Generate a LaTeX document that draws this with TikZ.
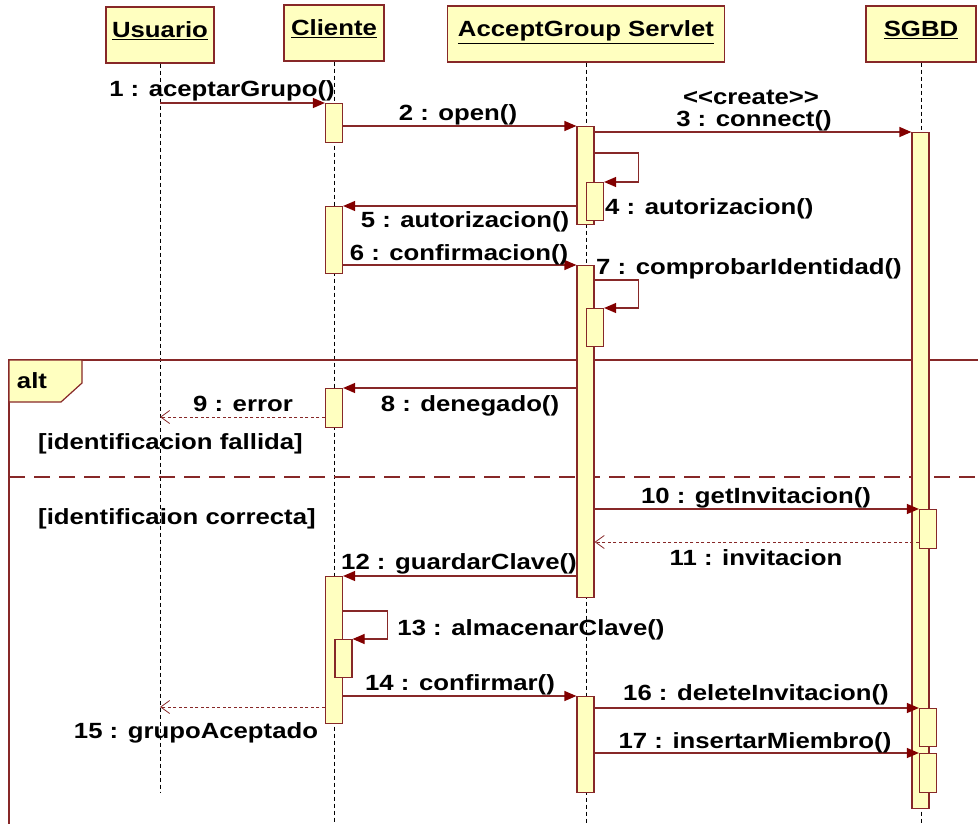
\documentclass[tikz,border=0pt]{standalone}
\usepackage{fontspec}
\setmainfont{Liberation Sans}[FakeStretch=1.17]
\usetikzlibrary{arrows.meta}

\definecolor{umlfill}{RGB}{255,255,192}
\definecolor{umlline}{RGB}{135,40,40}
\definecolor{umltip}{RGB}{130,0,0}

\tikzset{
  every node/.style={font=\fontsize{22}{26}\selectfont\bfseries},
  head/.style={draw=umlline, fill=umlfill, line width=1.2pt, minimum height=56pt,
    text height=16pt, text depth=10pt},
  life/.style={black, line width=1pt, dash pattern=on 4pt off 3pt},
  act/.style={draw=umlline, fill=umlfill, line width=1.2pt, minimum width=17pt,
    anchor=north, inner sep=0pt},
  call/.style={umlline, line width=1.2pt, -{Triangle[length=12pt,width=10pt,fill=umltip,color=umltip]}},
  reply/.style={umlline, line width=1pt, dash pattern=on 3pt off 2.5pt,
    -{Straight Barb[length=9pt,width=13pt,line width=0.8pt]}},
  msg/.style={text height=16pt, text depth=5pt, inner sep=0pt}
}

\begin{document}
\begin{tikzpicture}[x=1pt,y=-1pt]
\useasboundingbox (0,0) rectangle (978,824);

% lifeline heads
\node[head, minimum width=108pt] (usr) at (160,35) {\underline{Usuario}};
\node[head, minimum width=100pt] (cli) at (334,33) {\underline{Cliente}};
\node[head, minimum width=277pt] (srv) at (586,34) {\underline{AcceptGroup Servlet}};
\node[head, minimum width=110pt] (dbm) at (921,34) {\underline{SGBD}};

\draw[life] (usr.south) -- (usr.south |- 0,792);
\draw[life] (cli.south) -- (cli.south |- 0,826);
\draw[life] (srv.south) -- (srv.south |- 0,826);
\draw[life] (dbm.south) -- (dbm.south |- 0,826);

% alt frame
\draw[umlline, line width=1.2pt] (9,840) -- (9,360) -- (990,360);
\draw[umlline, line width=1.2pt, fill=umlfill] (9,360) -- (82,360) -- (82,383) -- (61,402) -- (9,402) -- cycle;
\node[msg] (alt) at (32,383) {alt};
\draw[umlline, line width=1.2pt, dash pattern=on 16pt off 9pt] (9,477) -- (990,477);
\node[msg, anchor=west] (g1) at (38,444) {[identificacion fallida]};
\node[msg, anchor=west] (g2) at (38,519) {[identificaion correcta]};

% activations
\node[act, minimum height=39pt] (c1) at (334,103) {};
\node[act, minimum height=67pt] (c2) at (334,206) {};
\node[act, minimum height=39pt] (c3) at (334,388) {};
\node[act, minimum height=147pt] (c4) at (334,576) {};
\node[act, minimum height=38pt] (c5) at (343.5,639) {};
\node[act, minimum height=98pt] (s1) at (585.5,126) {};
\node[act, minimum height=38pt] (s2) at (595,182) {};
\node[act, minimum height=332pt] (s3) at (585.5,265) {};
\node[act, minimum height=38pt] (s4) at (595,308) {};
\node[act, minimum height=96pt] (s5) at (585.5,696) {};
\node[act, minimum height=676pt] (d1) at (920.5,132) {};
\node[act, minimum height=39pt] (d2) at (928,509) {};
\node[act, minimum height=38pt] (d3) at (928,708) {};
\node[act, minimum height=39pt] (d4) at (928,753) {};

\coordinate (y4) at (0,153);
\coordinate (y7) at (0,280);
\coordinate (y9) at (0,417);
\coordinate (y11) at (0,542);
\coordinate (y13) at (0,611);
\coordinate (y15) at (0,707);

% messages
\draw[call] (usr.south |- c1.north) -- (c1.north west);
\draw[call] (c1.east |- s1.north) -- (s1.north west);
\draw[call] (s1.east |- d1.north) -- (d1.north west);
\draw[call] (s1.east |- y4) -- ++(44,0) |- (s2.north east);
\draw[call] (s1.west |- c2.north) -- (c2.north east);
\draw[call] (c2.east |- s3.north) -- (s3.north west);
\draw[call] (s3.east |- y7) -- ++(44,0) |- (s4.north east);
\draw[call] (s3.west |- c3.north) -- (c3.north east);
\draw[reply] (c3.west |- y9) -- (usr.south |- y9);
\draw[call] (s3.east |- d2.north) -- (d2.north west);
\draw[reply] (d2.west |- y11) -- (s3.east |- y11);
\draw[call] (s3.west |- c4.north) -- (c4.north east);
\draw[call] (c4.east |- y13) -- ++(44,0) |- (c5.north east);
\draw[call] (c4.east |- s5.north) -- (s5.north west);
\draw[reply] (c4.west |- y15) -- (usr.south |- y15);
\draw[call] (s5.east |- d3.north) -- (d3.north west);
\draw[call] (s5.east |- d4.north) -- (d4.north west);

% labels
\node[msg] (l1) at (222,91) {1 : aceptarGrupo()};
\node[msg] (l2) at (458,115) {2 : open()};
\node[msg] (lc) at (751,99) {<\kern0pt<create>\kern0pt>};
\node[msg] (l3) at (754,121) {3 : connect()};
\node[msg, anchor=west] (l4) at (605,209) {4 : autorizacion()};
\node[msg] (l5) at (465,222) {5 : autorizacion()};
\node[msg] (l6) at (459,255) {6 : confirmacion()};
\node[msg] (l7) at (749,269) {7 : comprobarIdentidad()};
\node[msg] (l8) at (470,406) {8 : denegado()};
\node[msg] (l9) at (243,406) {9 : error};
\node[msg] (l10) at (756,498) {10 : getInvitacion()};
\node[msg] (l11) at (756,560) {11 : invitacion};
\node[msg] (l12) at (459,564) {12 : guardarClave()};
\node[msg] (l13) at (531,630) {13 : almacenarClave()};
\node[msg] (l14) at (460,685) {14 : confirmar()};
\node[msg] (l15) at (196,733) {15 : grupoAceptado};
\node[msg] (l16) at (756,695) {16 : deleteInvitacion()};
\node[msg] (l17) at (755,743) {17 : insertarMiembro()};

\end{tikzpicture}
\end{document}
